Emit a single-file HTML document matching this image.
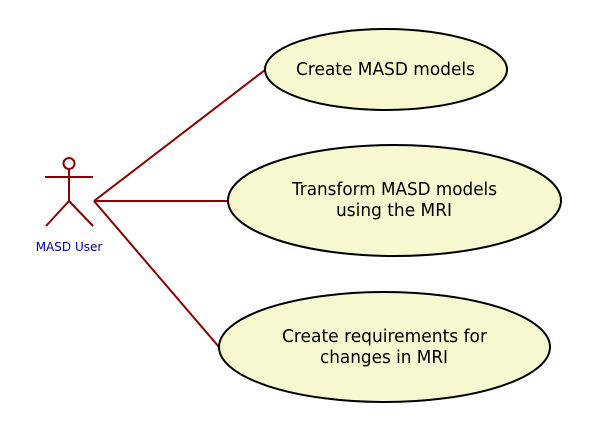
<!DOCTYPE html>
<html><head><style>html,body{margin:0;padding:0;background:#fff}svg{display:block}</style></head>
<body>
<svg width="604" height="424" viewBox="0 0 604 424" xmlns="http://www.w3.org/2000/svg" font-family="DejaVu Sans, sans-serif">
<g stroke="#8b0000" stroke-width="2" fill="none">
<circle cx="69" cy="163.5" r="5.5"/>
<line x1="69" y1="169" x2="69" y2="201"/>
<line x1="45" y1="177" x2="93" y2="177"/>
<line x1="69" y1="201" x2="46" y2="226"/>
<line x1="69" y1="201" x2="93" y2="226"/>
<line x1="94" y1="201" x2="265" y2="70"/>
<line x1="94" y1="201" x2="228" y2="201"/>
<line x1="94" y1="201" x2="219" y2="347"/>
</g>
<text x="69" y="251" font-size="12" fill="#0000b0" text-anchor="middle">MASD User</text>
<g fill="#f8f8d0" stroke="#000" stroke-width="2">
<ellipse cx="386" cy="69.5" rx="121" ry="40.5"/>
<ellipse cx="394.5" cy="200.5" rx="166.5" ry="55.5"/>
<ellipse cx="384.5" cy="347" rx="165.5" ry="55"/>
</g>
<g font-size="18" fill="#000">
<text x="296" y="75" textLength="179" lengthAdjust="spacingAndGlyphs">Create MASD models</text>
<text x="292" y="195" textLength="205" lengthAdjust="spacingAndGlyphs">Transform MASD models</text>
<text x="336" y="216" textLength="116" lengthAdjust="spacingAndGlyphs">using the MRI</text>
<text x="282" y="342" textLength="205" lengthAdjust="spacingAndGlyphs">Create requirements for</text>
<text x="320" y="363" textLength="128" lengthAdjust="spacingAndGlyphs">changes in MRI</text>
</g>
</svg>
</body></html>
